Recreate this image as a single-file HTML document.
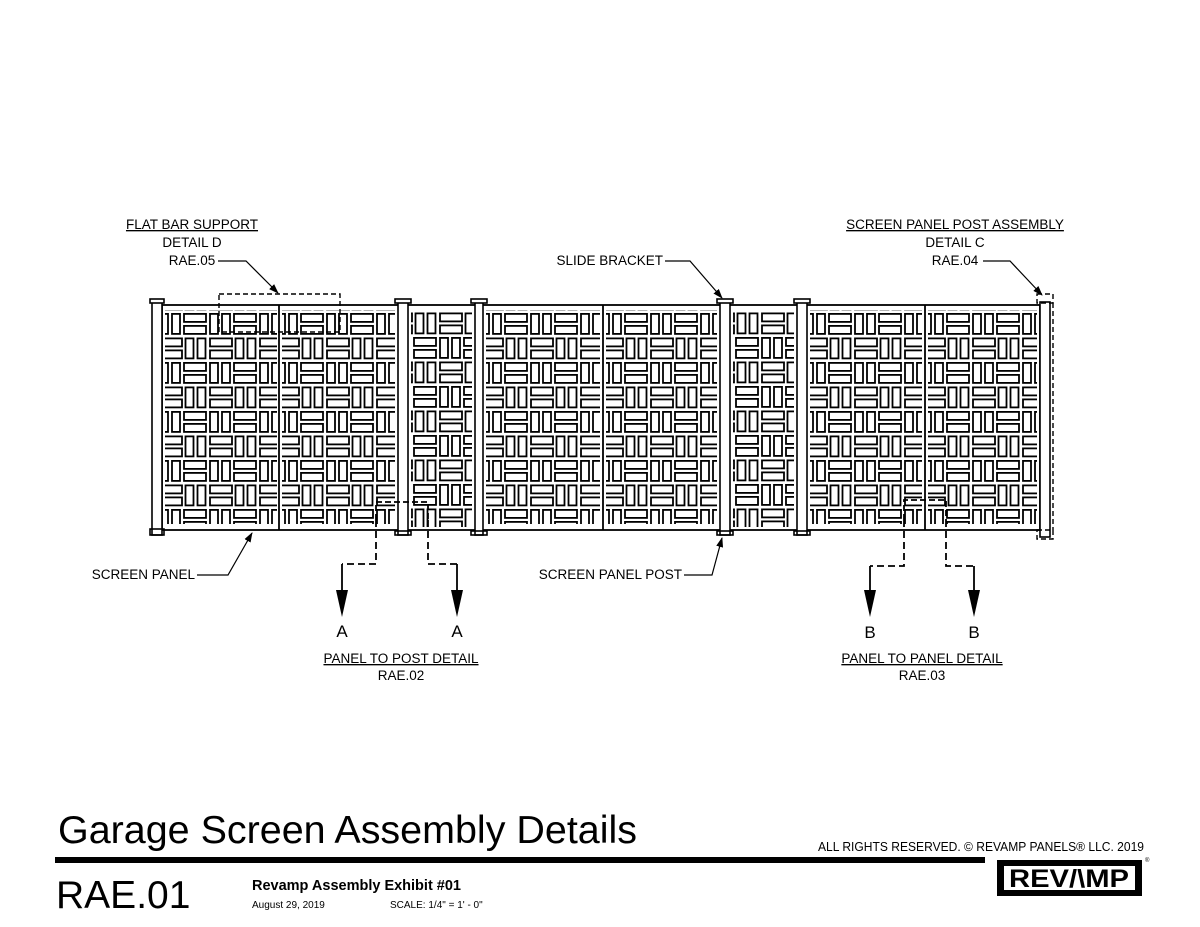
<!DOCTYPE html>
<html><head><meta charset="utf-8"><style>
html,body{margin:0;padding:0;background:#fff}
svg{display:block}
text{font-family:"Liberation Sans",sans-serif;fill:#000}
</style></head><body>
<svg width="1200" height="927" viewBox="0 0 1200 927" xmlns="http://www.w3.org/2000/svg">
<defs>
<pattern id="pa" patternUnits="userSpaceOnUse" x="0" y="0" width="50" height="49">
<g fill="none" stroke="#000" stroke-width="1.8">
<rect x="-5" y="0.9" width="8" height="20"/><rect x="7" y="0.9" width="8" height="20"/><rect x="45" y="0.9" width="8" height="20"/>
<rect x="19" y="0.9" width="22" height="8"/><rect x="19" y="12.9" width="22" height="8"/>
<rect x="-5" y="25.4" width="22" height="8"/><rect x="-5" y="37.4" width="22" height="8"/>
<rect x="45" y="25.4" width="22" height="8"/><rect x="45" y="37.4" width="22" height="8"/>
<rect x="20.5" y="25.4" width="8" height="20"/><rect x="32.5" y="25.4" width="8" height="20"/>
</g>
</pattern>
<marker id="ar" markerWidth="10" markerHeight="10" refX="9" refY="5" orient="auto" markerUnits="userSpaceOnUse"><path d="M0,1.5 L10,5 L0,8.5 Z" fill="#000"/></marker>
</defs>

<g stroke="#000" stroke-width="1.8" fill="none">
<rect x="162" y="305" width="878" height="225"/>
<line x1="279" y1="305" x2="279" y2="530"/>
<line x1="603" y1="305" x2="603" y2="530"/>
<line x1="925" y1="305" x2="925" y2="530"/>
</g>
<g transform="translate(165,313)"><rect x="0" y="-3" width="112" height="214" fill="url(#pa)"/></g>
<g transform="translate(282,313)"><rect x="0" y="-3" width="113" height="214" fill="url(#pa)"/></g>
<g transform="translate(395,288)"><rect x="16" y="22" width="61" height="217" fill="url(#pa)"/></g>
<g transform="translate(486,313)"><rect x="0" y="-3" width="114" height="214" fill="url(#pa)"/></g>
<g transform="translate(606,313)"><rect x="0" y="-3" width="111" height="214" fill="url(#pa)"/></g>
<g transform="translate(717,288)"><rect x="16" y="22" width="61" height="217" fill="url(#pa)"/></g>
<g transform="translate(810,313)"><rect x="0" y="-3" width="112" height="214" fill="url(#pa)"/></g>
<g transform="translate(928,313)"><rect x="0" y="-3" width="109" height="214" fill="url(#pa)"/></g>

<g stroke="#000" stroke-width="1.6" fill="#fff">
<rect x="152" y="302" width="10" height="233"/><rect x="150" y="299" width="14" height="4"/><rect x="150" y="529" width="14" height="6" fill="none"/>
<rect x="398" y="302" width="10" height="233"/><rect x="395" y="299" width="16" height="4"/><rect x="395" y="531" width="16" height="4" fill="none"/>
<rect x="475" y="302" width="8" height="233"/><rect x="471" y="299" width="16" height="4"/><rect x="471" y="531" width="16" height="4" fill="none"/>
<rect x="720" y="302" width="10" height="233"/><rect x="717" y="299" width="16" height="4"/><rect x="717" y="531" width="16" height="4" fill="none"/>
<rect x="797" y="302" width="10" height="233"/><rect x="794" y="299" width="16" height="4"/><rect x="794" y="531" width="16" height="4" fill="none"/>
<rect x="1040" y="302" width="10" height="235"/>
</g>
<g stroke="#000" stroke-width="1.4" fill="none" stroke-dasharray="5,3">
<rect x="1037" y="294" width="16" height="9"/>
<rect x="1037" y="530" width="16" height="9"/>
<line x1="1053" y1="303" x2="1053" y2="530"/>
<rect x="219" y="294" width="121" height="38"/>
</g>

<g stroke="#000" stroke-width="1.8" fill="none">
<path d="M376,520 V502 H428 V520" stroke-dasharray="6,3"/>
<path d="M376,520 V564 H342" stroke-dasharray="7,4"/>
<path d="M428,520 V564 H457" stroke-dasharray="7,4"/>
<path d="M342,564 V592"/><path d="M457,564 V592"/>
<path d="M904,520 V500 H946 V520" stroke-dasharray="6,3"/>
<path d="M904,520 V566 H870" stroke-dasharray="7,4"/>
<path d="M946,520 V566 H974" stroke-dasharray="7,4"/>
<path d="M870,566 V592"/><path d="M974,566 V592"/>
</g>
<g fill="#000">
<path d="M336,590 L348,590 L342,617 Z"/><path d="M451,590 L463,590 L457,617 Z"/>
<path d="M864,590 L876,590 L870,617 Z"/><path d="M968,590 L980,590 L974,617 Z"/>
</g>
<g font-size="17" text-anchor="middle">
<text x="342" y="637">A</text><text x="457" y="637">A</text>
<text x="870" y="638">B</text><text x="974" y="638">B</text>
</g>

<g stroke="#000" stroke-width="1.2" fill="none">
<path d="M218,261 H246 L278,293" marker-end="url(#ar)"/>
<path d="M665,261 H690 L722,298" marker-end="url(#ar)"/>
<path d="M983,261 H1010 L1042,295" marker-end="url(#ar)"/>
<path d="M684,575 H712 L722,538" marker-end="url(#ar)"/>
<path d="M197,575 H228 L252,533" marker-end="url(#ar)"/>
</g>
<g font-size="13.5">
<text x="192" y="229" text-anchor="middle" text-decoration="underline">FLAT BAR SUPPORT</text>
<text x="192" y="247" text-anchor="middle">DETAIL D</text>
<text x="192" y="265" text-anchor="middle">RAE.05</text>
<text x="955" y="229" text-anchor="middle" text-decoration="underline">SCREEN PANEL POST ASSEMBLY</text>
<text x="955" y="247" text-anchor="middle">DETAIL C</text>
<text x="955" y="265" text-anchor="middle">RAE.04</text>
<text x="663" y="265" text-anchor="end">SLIDE BRACKET</text>
<text x="682" y="579" text-anchor="end">SCREEN PANEL POST</text>
<text x="195" y="579" text-anchor="end">SCREEN PANEL</text>
<text x="401" y="663" text-anchor="middle" text-decoration="underline">PANEL TO POST DETAIL</text>
<text x="401" y="680" text-anchor="middle">RAE.02</text>
<text x="922" y="663" text-anchor="middle" text-decoration="underline">PANEL TO PANEL DETAIL</text>
<text x="922" y="680" text-anchor="middle">RAE.03</text>
</g>

<text x="58" y="843" font-size="39" textLength="579" lengthAdjust="spacingAndGlyphs">Garage Screen Assembly Details</text>
<rect x="55" y="857" width="930" height="6" fill="#000"/>
<text x="56" y="908" font-size="39">RAE.01</text>
<text x="252" y="890" font-size="14.5" font-weight="bold">Revamp Assembly Exhibit #01</text>
<text x="252" y="908" font-size="10">August 29, 2019</text>
<text x="390" y="908" font-size="10">SCALE: 1/4" = 1' - 0"</text>
<text x="818" y="851" font-size="12.5" textLength="326" lengthAdjust="spacingAndGlyphs">ALL RIGHTS RESERVED. © REVAMP PANELS® LLC. 2019</text>
<rect x="997" y="860" width="145" height="36" fill="#000"/>
<rect x="1004" y="866" width="131" height="24" fill="#fff"/>
<text x="1069" y="887" font-size="25" font-weight="bold" text-anchor="middle" textLength="120" lengthAdjust="spacingAndGlyphs">REV/\MP</text>
<text x="1145" y="862" font-size="6">®</text>
</svg>
</body></html>
